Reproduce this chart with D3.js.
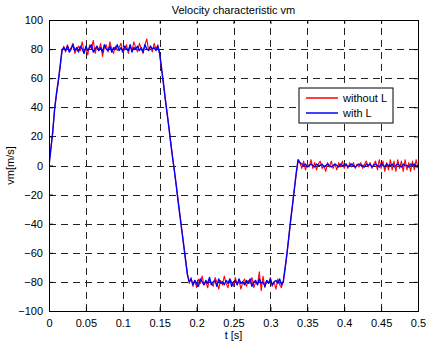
<!DOCTYPE html>
<html>
<head>
<meta charset="utf-8">
<script src="https://cdn.jsdelivr.net/npm/d3@7"></script>
<style>
  body { margin: 0; background: #fff; }
  svg { display: block; font-family: "Liberation Sans", Arial, sans-serif; }
</style>
</head>
<body>
<svg id="chart" width="426" height="345"></svg>
<script>
// sampling of both traces: one value every 2.5 ms from 0 to 0.5 s
const sampleStep = 0.0025;
const sampleCount = 201;

// velocity without L [m/s]
const withoutL = [
  0, 12, 22, 39, 48, 57, 67, 78,
  82, 78, 83, 79, 81, 84, 77, 80, 82, 79, 85, 78, 81, 76, 83, 80, 86, 77, 82, 79,
  84, 75, 81, 83, 78, 85, 80, 77, 82, 79, 81, 84, 78, 80, 83, 77, 82, 79, 85, 81,
  78, 84, 80, 77, 83, 87, 79, 82, 78, 84, 80, 83,
  76, 66, 56, 46, 36, 26, 16, 6, -4, -14, -24, -34, -44, -54, -64, -74,
  -81, -77, -83, -79, -84, -78, -81, -76, -82, -80, -84, -78, -81, -83, -77, -80,
  -85, -79, -82, -76, -81, -84, -78, -80, -83, -77, -82, -79, -85, -80, -78, -83,
  -79, -81, -77, -84, -80, -82, -73, -86, -76, -84, -79, -81, -77, -83, -80, -85,
  -78, -82, -84, -79,
  -71, -61, -49, -38, -27, -16, -6, 3,
  2, -2, 3, -3, 1, -1, 4, -2, 2, -3, 1, 3, -2, 0, -4, 2, -1, 3, -2, 1, -3, 2, -1, 3, -2,
  1, -2, 2, -1, 2, -2, 1, -1, 2, -2, 1, 3, -1, 2, -2, 1,
  3, -3, 4, -2, 3, -4, 2, -3, 4, -3, 3, -4, 4, -2, 3, -4, 4, -3, 2, -4, 3, -3, 4, -2
];

// velocity with L [m/s]
const withL = [
  0, 11, 23, 38, 49, 58, 68, 79,
  81, 79, 82, 78, 80, 83, 79, 81, 78, 82, 80, 77, 82, 79, 81, 83, 78, 80, 82, 79,
  81, 78, 83, 80, 79, 82, 78, 81, 80, 83, 79, 81, 78, 82, 80, 79, 83, 78, 81, 80,
  82, 79, 81, 78, 83, 80, 79, 82, 80, 81, 79, 82,
  77, 67, 57, 46, 36, 26, 15, 5, -4, -14, -25, -35, -45, -55, -65, -75,
  -80, -78, -82, -79, -81, -83, -78, -80, -82, -79, -81, -77, -82, -80, -79, -83,
  -78, -81, -80, -82, -79, -81, -78, -83, -80, -79, -82, -78, -81, -80, -82, -79,
  -81, -78, -83, -80, -79, -82, -78, -81, -80, -83, -79, -81, -78, -82, -80, -79,
  -81, -78, -82, -80,
  -70, -60, -49, -37, -27, -16, -5, 4,
  2, 1, 0, 1, -1, 0, 1, 0, -1, 1, 0, 0, 1, -1, 0, 1, 0, -1, 0, 1, 0, -1, 1, 0, 0,
  1, -1, 0, 1, 0, -1, 0, 1, 0, 0, -1, 1, 0, 1, -1, 0,
  1, 0, -1, 1, 0, -1, 1, 0, 0, 1, -1, 0, 1, 0, -1, 1, 0, 0, -1, 1, 0, 1, -1, 0
];

const xTicks = [0, 0.05, 0.1, 0.15, 0.2, 0.25, 0.3, 0.35, 0.4, 0.45, 0.5];
const yTicks = [-100, -80, -60, -40, -20, 0, 20, 40, 60, 80, 100];
const seriesNames = ['without L', 'with L'];
const seriesColors = ['#ff0000', '#0000ff'];
const seriesWidths = [1.1, 1.4];

const times = d3.range(sampleCount).map(i => i * sampleStep);

const margin = { top: 20, right: 8, bottom: 34, left: 49 };
const width = 426 - margin.left - margin.right;
const height = 345 - margin.top - margin.bottom;

const svg = d3.select('#chart');
const g = svg.append('g').attr('transform', `translate(${margin.left},${margin.top})`);

const x = d3.scaleLinear().domain([0, 0.5]).range([0, width]);
const y = d3.scaleLinear().domain([-100, 100]).range([height, 0]);

// grid
g.append('g')
  .selectAll('line')
  .data(xTicks.slice(1, -1))
  .enter()
  .append('line')
  .attr('x1', d => Math.round(x(d)) + 0.5)
  .attr('x2', d => Math.round(x(d)) + 0.5)
  .attr('y1', height)
  .attr('y2', 0)
  .attr('stroke', '#222')
  .attr('stroke-dasharray', '7,5');

g.append('g')
  .selectAll('line')
  .data(yTicks.slice(1, -1))
  .enter()
  .append('line')
  .attr('y1', d => Math.round(y(d)) + 0.5)
  .attr('y2', d => Math.round(y(d)) + 0.5)
  .attr('x1', 0)
  .attr('x2', width)
  .attr('stroke', '#222')
  .attr('stroke-dasharray', '7,5');

// traces
svg.append('defs').append('clipPath').attr('id', 'clip')
  .append('rect').attr('width', width).attr('height', height);

const line = d3.line()
  .x((d, i) => x(times[i]))
  .y(d => y(d));

[withoutL, withL].forEach((vals, k) => {
  g.append('path')
    .datum(vals)
    .attr('clip-path', 'url(#clip)')
    .attr('fill', 'none')
    .attr('stroke', seriesColors[k])
    .attr('stroke-width', seriesWidths[k])
    .attr('stroke-linejoin', 'round')
    .attr('d', line);
});

// axes (MATLAB style: ticks inside, box all round)
g.append('g')
  .attr('transform', `translate(0,${height})`)
  .call(d3.axisBottom(x).tickValues(xTicks).tickSize(-4).tickPadding(8).tickFormat(d3.format('')));
g.append('g')
  .call(d3.axisLeft(y).tickValues(yTicks).tickSize(-4).tickPadding(6));
g.append('g')
  .call(d3.axisTop(x).tickValues(xTicks).tickSize(-4).tickFormat(''));
g.append('g')
  .attr('transform', `translate(${width},0)`)
  .call(d3.axisRight(y).tickValues(yTicks).tickSize(-4).tickFormat(''));

g.selectAll('.domain').attr('stroke', '#000');
g.selectAll('.tick line').attr('stroke', '#000');
g.selectAll('.tick text')
  .attr('fill', '#000')
  .style('font-size', '11px')
  .style('font-family', '"Liberation Sans", Arial, sans-serif');

// titles
svg.append('text')
  .attr('x', margin.left + width / 2)
  .attr('y', 14)
  .attr('text-anchor', 'middle')
  .style('font-size', '11px')
  .text('Velocity characteristic vm');

svg.append('text')
  .attr('x', margin.left + width / 2)
  .attr('y', 339)
  .attr('text-anchor', 'middle')
  .style('font-size', '11px')
  .text('t [s]');

svg.append('text')
  .attr('transform', `translate(14,${margin.top + height / 2}) rotate(-90)`)
  .attr('text-anchor', 'middle')
  .style('font-size', '11px')
  .text('vm[m/s]');

// legend
const legend = svg.append('g').attr('transform', 'translate(299,88)');
legend.append('rect')
  .attr('width', 94)
  .attr('height', 35)
  .attr('fill', '#fff')
  .attr('stroke', '#000');
seriesNames.forEach((name, i) => {
  const ly = 10 + i * 15;
  legend.append('line')
    .attr('x1', 7).attr('x2', 39)
    .attr('y1', ly).attr('y2', ly)
    .attr('stroke', seriesColors[i])
    .attr('stroke-width', 1.5);
  legend.append('text')
    .attr('x', 44)
    .attr('y', ly + 4)
    .style('font-size', '11px')
    .text(name);
});
</script>
</body>
</html>
